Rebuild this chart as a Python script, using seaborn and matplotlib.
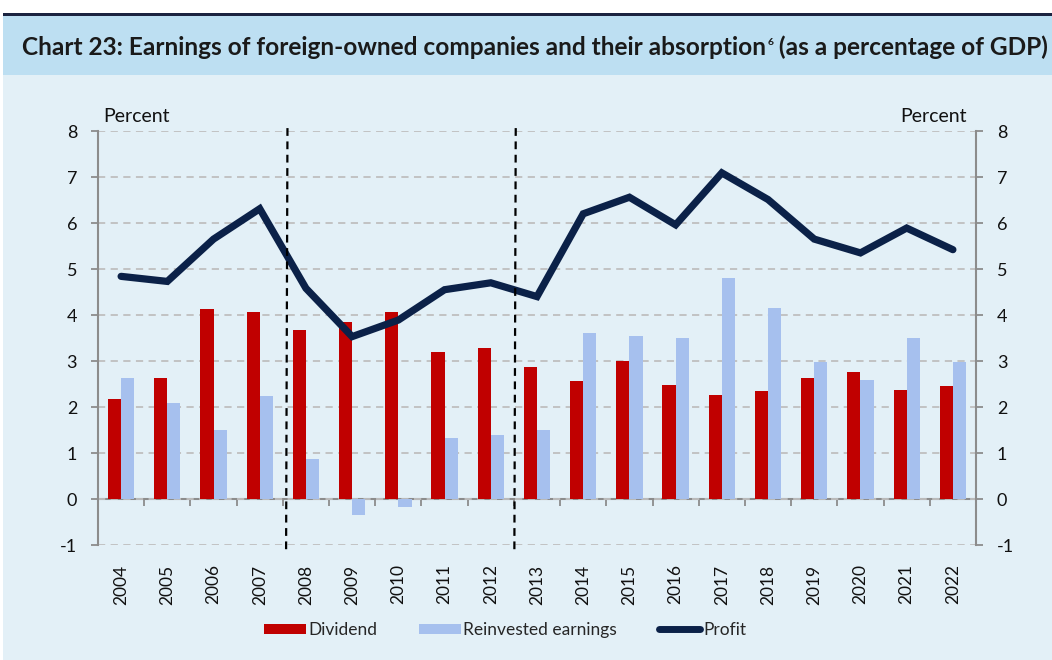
import numpy as np
import pandas as pd
import matplotlib
matplotlib.use("Agg")
import matplotlib.pyplot as plt
import seaborn as sns
from matplotlib.patches import Rectangle, Patch
from matplotlib.lines import Line2D

years = [str(y) for y in range(2004, 2023)]
dividend = [2.18, 2.62, 4.12, 4.06, 3.67, 3.84, 4.06, 3.20, 3.29, 2.87, 2.57, 3.00,
            2.47, 2.27, 2.35, 2.64, 2.76, 2.36, 2.45]
reinvested = [2.63, 2.09, 1.51, 2.25, 0.87, -0.34, -0.18, 1.32, 1.40, 1.50, 3.60, 3.54,
              3.49, 4.80, 4.15, 2.98, 2.58, 3.49, 2.97]
profit = [4.84, 4.73, 5.65, 6.31, 4.58, 3.53, 3.89, 4.55, 4.70, 4.40, 6.20, 6.56,
          5.96, 7.09, 6.51, 5.65, 5.35, 5.89, 5.42]
series_names = ["Dividend", "Reinvested earnings", "Profit"]
yticks = list(range(-1, 9))

RED = "#C00000"
LBLUE = "#A6C0EE"
NAVY = "#0B2148"
BG = "#E3F0F7"
BAND = "#BDDFF2"
GRID = "#BFBFBF"
SPINE = "#8C8C8C"

sns.set_theme(style="white")
plt.rcParams["font.family"] = ["Lato", "DejaVu Sans"]

W, H = 1052, 660
fig = plt.figure(figsize=(W / 100, H / 100), dpi=100)
fig.patch.set_facecolor("white")

# backgrounds
fig.patches.append(Rectangle((3 / W, 0), 1, 1 - 75 / H, transform=fig.transFigure,
                             facecolor=BG, edgecolor="none", zorder=-10))
fig.patches.append(Rectangle((3 / W, 1 - 75 / H), 1, 60 / H, transform=fig.transFigure,
                             facecolor=BAND, edgecolor="none", zorder=-9))
fig.patches.append(Rectangle((3 / W, 1 - 16 / H), 1, 3 / H, transform=fig.transFigure,
                             facecolor="#1B2340", edgecolor="none", zorder=-8))

ax = fig.add_axes([98 / W, 1 - 545 / H, (976 - 98) / W, (545 - 131) / H])
ax.set_facecolor(BG)

# title in three pieces (small superscript footnote mark)
tkw = dict(fontsize=17.6, fontweight="bold", color="#1A1A1A")
t1 = fig.text(22 / W, 1 - 55 / H,
              "Chart 23: Earnings of foreign-owned companies and their absorption",
              va="baseline", ha="left", **tkw)
a2 = ax.annotate("6", xy=(1, 1), xycoords=t1, xytext=(1.0, -8), textcoords="offset points",
                 fontsize=7.5, fontweight="bold", color="#1A1A1A", va="bottom", ha="left",
                 annotation_clip=False)
a3 = ax.annotate(" (as a percentage of GDP)", xy=(1, 0), xycoords=(a2, t1), xytext=(0, 0),
                 textcoords="offset points", va="bottom", ha="left",
                 annotation_clip=False, **tkw)

df = pd.DataFrame({
    "year": years * 2,
    "value": dividend + reinvested,
    "series": [series_names[0]] * len(years) + [series_names[1]] * len(years),
})
sns.barplot(data=df, x="year", y="value", hue="series", order=years,
            hue_order=series_names[:2], palette=[RED, LBLUE], width=0.57,
            saturation=1, linewidth=0, legend=False, ax=ax, zorder=3)

ldf = pd.DataFrame({"x": np.arange(len(years)), "profit": profit})
sns.lineplot(data=ldf, x="x", y="profit", color=NAVY, linewidth=5.2,
             solid_capstyle="round", solid_joinstyle="miter", ax=ax, zorder=5)

ax.set_xlim(-0.5, len(years) - 0.5)
ax.set_ylim(-1, 8)
ax.set_xlabel("")
ax.set_ylabel("")
ax.set_yticks(yticks)
ax.set_yticklabels([str(t) for t in yticks])
ax.set_xticks(np.arange(len(years)))
ax.set_xticklabels(years, rotation=90)
ax.tick_params(axis="x", length=0, pad=14, labelsize=12.5, colors="#111111")
ax.tick_params(axis="y", which="major", left=True, right=True, labelleft=True,
               labelright=True, length=5, width=1.3, color=SPINE, direction="out",
               pad=10, labelsize=13, labelcolor="#111111")

ax.grid(axis="y", color=GRID, linestyle=(0, (4, 3)), linewidth=1.3, zorder=0)
ax.grid(axis="x", visible=False)
ax.set_axisbelow(True)
for s in ["top", "bottom"]:
    ax.spines[s].set_visible(False)
for s in ["left", "right"]:
    ax.spines[s].set_visible(True)
    ax.spines[s].set_color(SPINE)
    ax.spines[s].set_linewidth(1.5)

# zero axis with category boundary ticks
sec = ax.secondary_xaxis(1 / 9)
sec.set_xticks(np.arange(len(years) - 1) + 0.5)
sec.set_xticklabels([])
sec.tick_params(length=5, width=1.3, color=SPINE, direction="out")
sec.spines["bottom"].set_color(SPINE)
sec.spines["bottom"].set_linewidth(1.5)
for s in ["top", "left", "right"]:
    sec.spines[s].set_visible(False)

# period separators
for xpos in [3.6, 8.54]:
    ax.plot([xpos, xpos - 0.03], [1.007, -0.022], transform=ax.get_xaxis_transform(),
            color="black", linestyle=(0, (3.5, 2.5)), linewidth=1.6, clip_on=False,
            zorder=6)

fig.text(103 / W, 1 - 116 / H, "Percent", fontsize=14, ha="left", va="center",
         color="#111111")
fig.text(967 / W, 1 - 116 / H, "Percent", fontsize=14, ha="right", va="center",
         color="#111111")

handles = [Patch(facecolor=RED, edgecolor="none"),
           Patch(facecolor=LBLUE, edgecolor="none"),
           Line2D([0], [0], color=NAVY, linewidth=5, solid_capstyle="round")]
fig.legend(handles, series_names, loc="center", bbox_to_anchor=(505 / W, 1 - 630 / H),
           ncol=3, frameon=False, fontsize=12.5, handlelength=2.4, handleheight=0.5,
           handletextpad=0.15, columnspacing=2.4)

fig.savefig("out.png", dpi=100, facecolor=fig.get_facecolor())
